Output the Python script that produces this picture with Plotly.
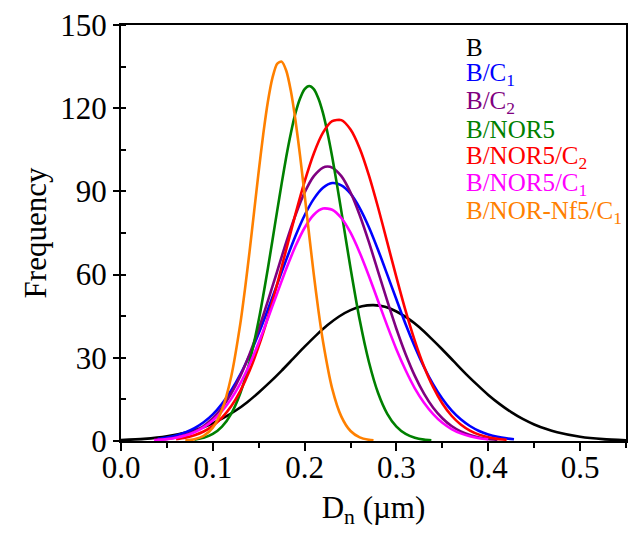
import plotly.graph_objects as go

# Size distributions (D_n in µm vs frequency), tabulated along each fitted curve
labels = ["B", "B/C<sub>1</sub>", "B/C<sub>2</sub>", "B/NOR5",
          "B/NOR5/C<sub>2</sub>", "B/NOR5/C<sub>1</sub>", "B/NOR-Nf5/C<sub>1</sub>"]
colors = ["#000000", "#0000FF", "#800080", "#008000", "#FF0000", "#FF00FF", "#FF8000"]

b_x = [0.0, 0.025, 0.05, 0.075, 0.0875, 0.1, 0.1125, 0.125, 0.1375, 0.15, 0.1625,
       0.175, 0.1875, 0.2, 0.2125, 0.225, 0.2375, 0.25, 0.2625, 0.275, 0.2875,
       0.3, 0.3125, 0.325, 0.3375, 0.35, 0.3625, 0.375, 0.3875, 0.4, 0.4125,
       0.425, 0.4375, 0.45, 0.4625, 0.475, 0.5, 0.525, 0.55]
b_y = [0.31, 0.75, 1.67, 3.42, 4.72, 6.4, 8.5, 11.0, 14.0, 17.5, 21.3,
       25.4, 29.7, 34.0, 38.1, 41.8, 44.9, 47.2, 48.6, 49.0, 48.4,
       46.7, 44.2, 41.0, 37.1, 33.0, 28.7, 24.4, 20.4, 16.6, 13.3,
       10.4, 7.95, 5.96, 4.38, 3.15, 1.53, 0.68, 0.28]

bc1_x = [0.04, 0.05, 0.06, 0.07, 0.08, 0.09, 0.1, 0.11, 0.12, 0.13, 0.14, 0.15,
         0.16, 0.17, 0.18, 0.19, 0.2, 0.21, 0.22, 0.23, 0.24, 0.25, 0.26, 0.27,
         0.28, 0.29, 0.3, 0.31, 0.32, 0.33, 0.34, 0.35, 0.36, 0.37, 0.38, 0.39,
         0.4, 0.41, 0.42, 0.428]
bc1_y = [0.77, 1.25, 1.98, 3.06, 4.6, 6.75, 9.6, 13.4, 18.2, 24.0, 30.9, 38.8,
         47.4, 56.4, 65.4, 73.9, 81.4, 87.3, 91.3, 93.0, 92.2, 89.2, 84.0, 77.1,
         68.9, 60.0, 51.0, 42.1, 34.0, 26.7, 20.4, 15.2, 11.0, 7.8, 5.4, 3.62,
         2.37, 1.51, 0.94, 0.63]

bc2_x = [0.04, 0.05, 0.06, 0.07, 0.08, 0.09, 0.1, 0.11, 0.12, 0.13, 0.14, 0.15,
         0.16, 0.17, 0.18, 0.19, 0.2, 0.21, 0.22, 0.225, 0.23, 0.24, 0.25, 0.26,
         0.27, 0.28, 0.29, 0.3, 0.31, 0.32, 0.33, 0.34, 0.35, 0.36, 0.37, 0.38,
         0.39, 0.4, 0.41]
bc2_y = [0.42, 0.75, 1.29, 2.15, 3.47, 5.4, 8.2, 12.0, 17.1, 23.5, 31.3, 40.4,
         50.5, 61.1, 71.7, 81.4, 89.6, 95.5, 98.6, 99.0, 98.6, 95.5, 89.6, 81.4,
         71.7, 61.1, 50.5, 40.4, 31.3, 23.5, 17.1, 12.0, 8.2, 5.4, 3.47, 2.15,
         1.29, 0.75, 0.42]

bn_x = [0.08, 0.09, 0.1, 0.11, 0.12, 0.13, 0.14, 0.15, 0.16, 0.165, 0.17, 0.175,
        0.18, 0.185, 0.19, 0.195, 0.2, 0.205, 0.21, 0.215, 0.22, 0.225, 0.23,
        0.235, 0.24, 0.245, 0.25, 0.26, 0.27, 0.28, 0.29, 0.3, 0.31, 0.32,
        0.33, 0.338]
bn_y = [0.49, 1.16, 2.54, 5.17, 9.8, 17.3, 28.5, 43.6, 62.3, 72.5, 82.8, 92.9,
        102.5, 111.0, 118.2, 123.5, 126.9, 128.0, 126.9, 123.5, 118.2, 111.0, 102.5,
        92.9, 82.8, 72.5, 62.3, 43.6, 28.5, 17.3, 9.8, 5.17, 2.54, 1.16,
        0.49, 0.24]

bnc2_x = [0.06, 0.07, 0.08, 0.09, 0.1, 0.11, 0.12, 0.13, 0.14, 0.15, 0.16, 0.17,
          0.18, 0.19, 0.2, 0.21, 0.22, 0.23, 0.24, 0.25, 0.26, 0.27, 0.28, 0.29,
          0.3, 0.31, 0.32, 0.33, 0.34, 0.35, 0.36, 0.37, 0.38, 0.39, 0.4, 0.41,
          0.42]
bnc2_y = [0.69, 1.22, 2.08, 3.42, 5.46, 8.41, 12.5, 18.1, 25.3, 34.2, 44.6, 56.5,
          69.1, 81.8, 93.6, 103.7, 111.2, 115.3, 115.7, 112.3, 105.5, 95.8, 84.2, 71.6,
          59.0, 46.9, 36.1, 26.9, 19.4, 13.5, 9.1, 5.96, 3.77, 2.30, 1.36, 0.78,
          0.43]

bnc1_x = [0.036, 0.04, 0.05, 0.06, 0.07, 0.08, 0.09, 0.1, 0.11, 0.12, 0.13, 0.14,
          0.15, 0.16, 0.17, 0.18, 0.19, 0.2, 0.21, 0.22, 0.23, 0.24, 0.25, 0.26,
          0.27, 0.28, 0.29, 0.3, 0.31, 0.32, 0.33, 0.34, 0.35, 0.36, 0.37, 0.38,
          0.39, 0.4]
bnc1_y = [0.31, 0.39, 0.69, 1.18, 1.96, 3.15, 4.9, 7.4, 10.8, 15.2, 20.8, 27.6,
          35.5, 44.2, 53.2, 62.1, 70.2, 76.9, 81.6, 83.8, 83.4, 80.4, 75.1, 67.9,
          59.5, 50.5, 41.5, 33.0, 25.5, 19.0, 13.8, 9.7, 6.55, 4.3, 2.74, 1.69,
          1.01, 0.58]

bnn_x = [0.07, 0.08, 0.09, 0.1, 0.11, 0.12, 0.13, 0.135, 0.14, 0.145, 0.15, 0.155,
         0.16, 0.165, 0.17, 0.175, 0.18, 0.185, 0.19, 0.195, 0.2, 0.205, 0.21,
         0.215, 0.22, 0.23, 0.24, 0.25, 0.26, 0.27, 0.275]
bnn_y = [0.18, 0.61, 1.82, 4.81, 11.25, 23.2, 42.4, 54.7, 68.3, 82.8, 97.3, 110.8,
         122.4, 131.0, 136.0, 136.8, 133.5, 126.2, 115.7, 102.9, 88.7, 74.1, 60.0,
         47.1, 35.9, 18.9, 8.8, 3.6, 1.32, 0.43, 0.23]

series = [(b_x, b_y), (bc1_x, bc1_y), (bc2_x, bc2_y), (bn_x, bn_y),
          (bnc2_x, bnc2_y), (bnc1_x, bnc1_y), (bnn_x, bnn_y)]

x_ticks = [0.0, 0.1, 0.2, 0.3, 0.4, 0.5]
y_ticks = [0, 30, 60, 90, 120, 150]

FONT = "Liberation Serif, Times New Roman, serif"

fig = go.Figure()
for (xs, ys), name, col in zip(series, labels, colors):
    fig.add_trace(go.Scatter(x=xs, y=ys, mode="lines", name=name,
                             line=dict(color=col, width=2.6, shape="spline", smoothing=0.7),
                             showlegend=False))

# coloured text key in the upper right
for i, (name, col) in enumerate(zip(labels, colors)):
    fig.add_annotation(x=0.68, y=0.947 - i * 0.0661, xref="paper", yref="paper",
                       text=name, showarrow=False, xanchor="left", yanchor="middle",
                       font=dict(family=FONT, size=25, color=col))

fig.update_layout(
    width=634, height=535,
    margin=dict(l=121, r=6, t=25, b=94),
    paper_bgcolor="white", plot_bgcolor="white",
    font=dict(family=FONT, size=31, color="black"),
)
fig.update_xaxes(
    range=[0, 0.55], tickvals=x_ticks, ticktext=[f"{v:.1f}" for v in x_ticks],
    showgrid=False, zeroline=False, showline=True, linecolor="black", linewidth=2,
    mirror=True, ticks="outside", ticklen=8, tickwidth=2, tickcolor="black",
    minor=dict(dtick=0.05, tick0=0, ticks="outside", ticklen=5, tickwidth=2, tickcolor="black"),
    tickfont=dict(family=FONT, size=31), ticklabelstandoff=-10,
    title=dict(text="D<sub>n</sub> (µm)", font=dict(family=FONT, size=31), standoff=12),
)
fig.update_yaxes(
    range=[0, 150], tickvals=y_ticks,
    showgrid=False, zeroline=False, showline=True, linecolor="black", linewidth=2,
    mirror=True, ticks="outside", ticklen=6, tickwidth=2, tickcolor="black",
    minor=dict(dtick=15, tick0=0, ticks="inside", ticklen=5, tickwidth=2, tickcolor="black"),
    tickfont=dict(family=FONT, size=31),
    title=dict(text="Frequency", font=dict(family=FONT, size=31), standoff=4),
)

fig.write_html("out.html")
